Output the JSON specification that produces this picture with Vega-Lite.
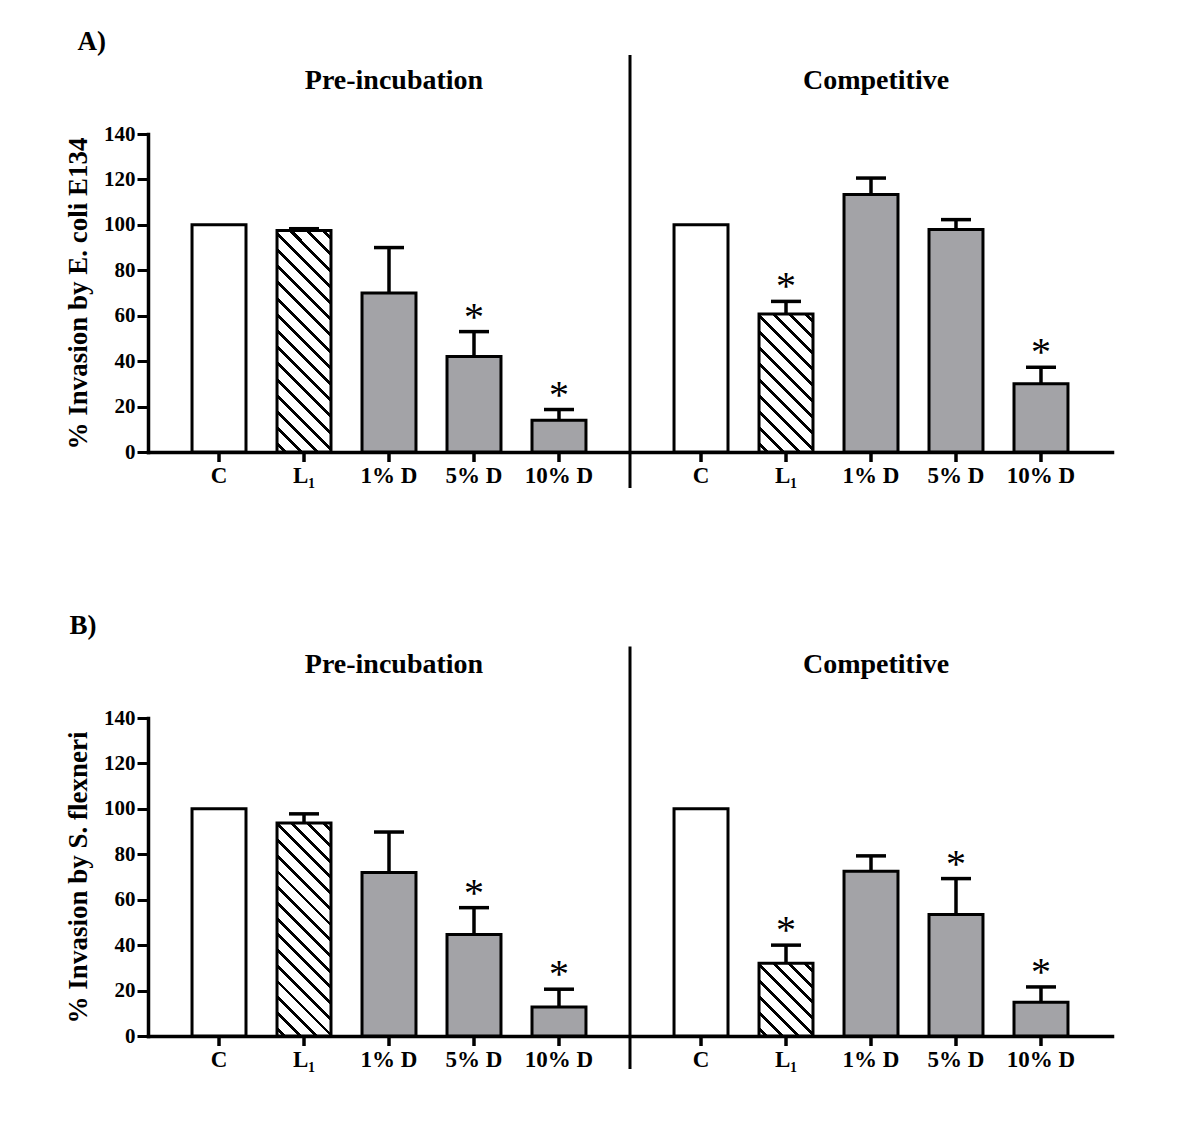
{
"$schema":"https://vega.github.io/schema/vega-lite/v6.json",
"background":"white",
"padding":{"left":64,"top":28,"right":5,"bottom":5},
"spacing":121,
"config":{"view":{"stroke":null},
 "axisY":{"domainColor":"black","domainWidth":3.5,"domainCap":"square","tickColor":"black","tickWidth":3,"tickSize":11,"labelFont":"Liberation Serif","labelFontSize":21,"labelFontWeight":"bold","labelColor":"black","labelPadding":2,"titleFont":"Liberation Serif","titleFontSize":27,"titleFontWeight":"bold","titleColor":"black","titlePadding":11,"grid":false,"tickCount":7},
 "axisX":{"domainColor":"black","domainWidth":3.5,"domainCap":"square","labels":false,"ticks":false,"grid":false}},
"data":{"values":[
{"panel":"A","group":"Pre-incubation","cond":"C","mean":100,"upper":null,"sig":false},
{"panel":"A","group":"Pre-incubation","cond":"L₁","mean":97.5,"upper":98.3,"sig":false},
{"panel":"A","group":"Pre-incubation","cond":"1% D","mean":70,"upper":90,"sig":false},
{"panel":"A","group":"Pre-incubation","cond":"5% D","mean":42,"upper":53,"sig":true},
{"panel":"A","group":"Pre-incubation","cond":"10% D","mean":14,"upper":18.7,"sig":true},
{"panel":"A","group":"Competitive","cond":"C","mean":100,"upper":null,"sig":false},
{"panel":"A","group":"Competitive","cond":"L₁","mean":60.8,"upper":66.3,"sig":true},
{"panel":"A","group":"Competitive","cond":"1% D","mean":113.4,"upper":120.6,"sig":false},
{"panel":"A","group":"Competitive","cond":"5% D","mean":98,"upper":102.3,"sig":false},
{"panel":"A","group":"Competitive","cond":"10% D","mean":30,"upper":37.3,"sig":true},
{"panel":"B","group":"Pre-incubation","cond":"C","mean":100,"upper":null,"sig":false},
{"panel":"B","group":"Pre-incubation","cond":"L₁","mean":93.8,"upper":97.8,"sig":false},
{"panel":"B","group":"Pre-incubation","cond":"1% D","mean":72,"upper":89.8,"sig":false},
{"panel":"B","group":"Pre-incubation","cond":"5% D","mean":44.7,"upper":56.5,"sig":true},
{"panel":"B","group":"Pre-incubation","cond":"10% D","mean":12.8,"upper":20.6,"sig":true},
{"panel":"B","group":"Competitive","cond":"C","mean":100,"upper":null,"sig":false},
{"panel":"B","group":"Competitive","cond":"L₁","mean":32,"upper":40,"sig":true},
{"panel":"B","group":"Competitive","cond":"1% D","mean":72.5,"upper":79.3,"sig":false},
{"panel":"B","group":"Competitive","cond":"5% D","mean":53.5,"upper":69.3,"sig":true},
{"panel":"B","group":"Competitive","cond":"10% D","mean":14.9,"upper":21.6,"sig":true}
]},
"vconcat":[
{
"title":{"text":"A)","anchor":"start","frame":"bounds","baseline":"alphabetic","offset":-24,"dx":13,"font":"Liberation Serif","fontSize":27,"fontWeight":"bold","color":"black"},
"width":964,"height":318,
"transform":[{"filter":"datum.panel === 'A'"}],
"layer":[
{"transform":[{"filter":"datum.cond !== 'L₁'"}],
 "mark":{"type":"bar","stroke":"black","strokeWidth":3},
 "encoding":{
  "x":{"field":"group","type":"nominal","scale":{"domain":["Pre-incubation","Competitive"],"paddingInner":0,"paddingOuter":0},"title":null},
  "xOffset":{"field":"cond","type":"nominal","scale":{"domain":["C","L₁","1% D","5% D","10% D"],"paddingInner":0.365,"paddingOuter":0.518}},
  "y":{"field":"mean","type":"quantitative","scale":{"domain":[0,140],"nice":false},"title":"% Invasion by E. coli E134"},
  "fill":{"condition":{"test":"datum.cond === 'C'","value":"white"},"value":"#a3a3a7"}}},
{"transform":[{"filter":"datum.cond === 'L₁' && datum.group === 'Pre-incubation'"}],
 "mark":{"type":"bar","stroke":"black","strokeWidth":3,"fill":{"gradient":"linear","x1":0,"y1":1,"x2":0.2862,"y2":-0.1741,"stops":[
{"offset":0,"color":"#fff"},
{"offset":0.02206,"color":"#fff"},{"offset":0.02206,"color":"#000"},{"offset":0.03676,"color":"#000"},{"offset":0.03676,"color":"#fff"},
{"offset":0.08088,"color":"#fff"},{"offset":0.08088,"color":"#000"},{"offset":0.09559,"color":"#000"},{"offset":0.09559,"color":"#fff"},
{"offset":0.13971,"color":"#fff"},{"offset":0.13971,"color":"#000"},{"offset":0.15441,"color":"#000"},{"offset":0.15441,"color":"#fff"},
{"offset":0.19853,"color":"#fff"},{"offset":0.19853,"color":"#000"},{"offset":0.21324,"color":"#000"},{"offset":0.21324,"color":"#fff"},
{"offset":0.25735,"color":"#fff"},{"offset":0.25735,"color":"#000"},{"offset":0.27206,"color":"#000"},{"offset":0.27206,"color":"#fff"},
{"offset":0.31618,"color":"#fff"},{"offset":0.31618,"color":"#000"},{"offset":0.33088,"color":"#000"},{"offset":0.33088,"color":"#fff"},
{"offset":0.375,"color":"#fff"},{"offset":0.375,"color":"#000"},{"offset":0.38971,"color":"#000"},{"offset":0.38971,"color":"#fff"},
{"offset":0.43382,"color":"#fff"},{"offset":0.43382,"color":"#000"},{"offset":0.44853,"color":"#000"},{"offset":0.44853,"color":"#fff"},
{"offset":0.49265,"color":"#fff"},{"offset":0.49265,"color":"#000"},{"offset":0.50735,"color":"#000"},{"offset":0.50735,"color":"#fff"},
{"offset":0.55147,"color":"#fff"},{"offset":0.55147,"color":"#000"},{"offset":0.56618,"color":"#000"},{"offset":0.56618,"color":"#fff"},
{"offset":0.61029,"color":"#fff"},{"offset":0.61029,"color":"#000"},{"offset":0.625,"color":"#000"},{"offset":0.625,"color":"#fff"},
{"offset":0.66912,"color":"#fff"},{"offset":0.66912,"color":"#000"},{"offset":0.68382,"color":"#000"},{"offset":0.68382,"color":"#fff"},
{"offset":0.72794,"color":"#fff"},{"offset":0.72794,"color":"#000"},{"offset":0.74265,"color":"#000"},{"offset":0.74265,"color":"#fff"},
{"offset":0.78676,"color":"#fff"},{"offset":0.78676,"color":"#000"},{"offset":0.80147,"color":"#000"},{"offset":0.80147,"color":"#fff"},
{"offset":0.84559,"color":"#fff"},{"offset":0.84559,"color":"#000"},{"offset":0.86029,"color":"#000"},{"offset":0.86029,"color":"#fff"},
{"offset":0.90441,"color":"#fff"},{"offset":0.90441,"color":"#000"},{"offset":0.91912,"color":"#000"},{"offset":0.91912,"color":"#fff"},
{"offset":0.96324,"color":"#fff"},{"offset":0.96324,"color":"#000"},{"offset":0.97794,"color":"#000"},{"offset":0.97794,"color":"#fff"},
{"offset":1,"color":"#fff"}]}},
 "encoding":{
  "x":{"field":"group","type":"nominal","title":null},
  "xOffset":{"field":"cond","type":"nominal"},
  "y":{"field":"mean","type":"quantitative","title":"% Invasion by E. coli E134"}}},
{"transform":[{"filter":"datum.cond === 'L₁' && datum.group === 'Competitive'"}],
 "mark":{"type":"bar","stroke":"black","strokeWidth":3,"fill":{"gradient":"linear","x1":0,"y1":1,"x2":0.4719,"y2":-0.2067,"stops":[
{"offset":0,"color":"#fff"},
{"offset":0.03125,"color":"#fff"},{"offset":0.03125,"color":"#000"},{"offset":0.05208,"color":"#000"},{"offset":0.05208,"color":"#fff"},
{"offset":0.11458,"color":"#fff"},{"offset":0.11458,"color":"#000"},{"offset":0.13542,"color":"#000"},{"offset":0.13542,"color":"#fff"},
{"offset":0.19792,"color":"#fff"},{"offset":0.19792,"color":"#000"},{"offset":0.21875,"color":"#000"},{"offset":0.21875,"color":"#fff"},
{"offset":0.28125,"color":"#fff"},{"offset":0.28125,"color":"#000"},{"offset":0.30208,"color":"#000"},{"offset":0.30208,"color":"#fff"},
{"offset":0.36458,"color":"#fff"},{"offset":0.36458,"color":"#000"},{"offset":0.38542,"color":"#000"},{"offset":0.38542,"color":"#fff"},
{"offset":0.44792,"color":"#fff"},{"offset":0.44792,"color":"#000"},{"offset":0.46875,"color":"#000"},{"offset":0.46875,"color":"#fff"},
{"offset":0.53125,"color":"#fff"},{"offset":0.53125,"color":"#000"},{"offset":0.55208,"color":"#000"},{"offset":0.55208,"color":"#fff"},
{"offset":0.61458,"color":"#fff"},{"offset":0.61458,"color":"#000"},{"offset":0.63542,"color":"#000"},{"offset":0.63542,"color":"#fff"},
{"offset":0.69792,"color":"#fff"},{"offset":0.69792,"color":"#000"},{"offset":0.71875,"color":"#000"},{"offset":0.71875,"color":"#fff"},
{"offset":0.78125,"color":"#fff"},{"offset":0.78125,"color":"#000"},{"offset":0.80208,"color":"#000"},{"offset":0.80208,"color":"#fff"},
{"offset":0.86458,"color":"#fff"},{"offset":0.86458,"color":"#000"},{"offset":0.88542,"color":"#000"},{"offset":0.88542,"color":"#fff"},
{"offset":0.94792,"color":"#fff"},{"offset":0.94792,"color":"#000"},{"offset":0.96875,"color":"#000"},{"offset":0.96875,"color":"#fff"},
{"offset":1,"color":"#fff"}]}},
 "encoding":{
  "x":{"field":"group","type":"nominal","title":null},
  "xOffset":{"field":"cond","type":"nominal"},
  "y":{"field":"mean","type":"quantitative","title":"% Invasion by E. coli E134"}}},
{"transform":[{"filter":"datum.upper != null"}],
 "mark":{"type":"rule","strokeWidth":3.5,"color":"black"},
 "encoding":{
  "x":{"field":"group","type":"nominal","title":null},
  "xOffset":{"field":"cond","type":"nominal"},
  "y":{"field":"mean","type":"quantitative","title":"% Invasion by E. coli E134"},
  "y2":{"field":"upper"}}},
{"transform":[{"filter":"datum.upper != null"}],
 "mark":{"type":"tick","orient":"horizontal","size":30,"thickness":3.5,"color":"black","opacity":1},
 "encoding":{
  "x":{"field":"group","type":"nominal","title":null},
  "xOffset":{"field":"cond","type":"nominal"},
  "y":{"field":"upper","type":"quantitative","title":"% Invasion by E. coli E134"}}},
{"transform":[{"filter":"datum.sig"}],
 "mark":{"type":"text","text":"*","font":"Liberation Serif","fontSize":40,"baseline":"alphabetic","dy":-2,"color":"black"},
 "encoding":{
  "x":{"field":"group","type":"nominal","title":null},
  "xOffset":{"field":"cond","type":"nominal"},
  "y":{"field":"upper","type":"quantitative","title":"% Invasion by E. coli E134"}}},
{"mark":{"type":"rule","strokeWidth":3.5,"color":"black"},
 "encoding":{
  "x":{"field":"group","type":"nominal","title":null},
  "xOffset":{"field":"cond","type":"nominal"},
  "y":{"datum":0,"type":"quantitative","title":"% Invasion by E. coli E134"},
  "y2":{"datum":-4.4}}},
{"mark":{"type":"text","font":"Liberation Serif","fontSize":23,"fontWeight":"bold","baseline":"alphabetic","dy":31,"color":"black"},
 "encoding":{
  "x":{"field":"group","type":"nominal","title":null},
  "xOffset":{"field":"cond","type":"nominal"},
  "y":{"datum":0,"type":"quantitative","title":"% Invasion by E. coli E134"},
  "text":{"field":"cond"}}},
{"transform":[{"filter":"datum.cond === 'C'"}],
 "mark":{"type":"text","font":"Liberation Serif","fontSize":28,"fontWeight":"bold","baseline":"alphabetic","dx":5,"color":"black"},
 "encoding":{
  "x":{"field":"group","type":"nominal","title":null},
  "y":{"datum":160,"type":"quantitative","title":"% Invasion by E. coli E134"},
  "text":{"field":"group"}}},
{"transform":[{"filter":"datum.cond === 'C' && datum.group === 'Competitive'"}],
 "mark":{"type":"rule","strokeWidth":3,"color":"black"},
 "encoding":{
  "x":{"field":"group","type":"nominal","bandPosition":0,"title":null},
  "y":{"datum":174.8,"type":"quantitative","title":"% Invasion by E. coli E134"},
  "y2":{"datum":-15.8}}}
]},
{
"title":{"text":"B)","anchor":"start","frame":"bounds","baseline":"alphabetic","offset":-16,"dx":5,"font":"Liberation Serif","fontSize":27,"fontWeight":"bold","color":"black"},
"width":964,"height":318,
"transform":[{"filter":"datum.panel === 'B'"}],
"layer":[
{"transform":[{"filter":"datum.cond !== 'L₁'"}],
 "mark":{"type":"bar","stroke":"black","strokeWidth":3},
 "encoding":{
  "x":{"field":"group","type":"nominal","scale":{"domain":["Pre-incubation","Competitive"],"paddingInner":0,"paddingOuter":0},"title":null},
  "xOffset":{"field":"cond","type":"nominal","scale":{"domain":["C","L₁","1% D","5% D","10% D"],"paddingInner":0.365,"paddingOuter":0.518}},
  "y":{"field":"mean","type":"quantitative","scale":{"domain":[0,140],"nice":false},"title":"% Invasion by S. flexneri"},
  "fill":{"condition":{"test":"datum.cond === 'C'","value":"white"},"value":"#a3a3a7"}}},
{"transform":[{"filter":"datum.cond === 'L₁' && datum.group === 'Pre-incubation'"}],
 "mark":{"type":"bar","stroke":"black","strokeWidth":3,"fill":{"gradient":"linear","x1":0,"y1":1,"x2":0.2985,"y2":-0.178,"stops":[
{"offset":0,"color":"#fff"},
{"offset":0.02206,"color":"#fff"},{"offset":0.02206,"color":"#000"},{"offset":0.03676,"color":"#000"},{"offset":0.03676,"color":"#fff"},
{"offset":0.08088,"color":"#fff"},{"offset":0.08088,"color":"#000"},{"offset":0.09559,"color":"#000"},{"offset":0.09559,"color":"#fff"},
{"offset":0.13971,"color":"#fff"},{"offset":0.13971,"color":"#000"},{"offset":0.15441,"color":"#000"},{"offset":0.15441,"color":"#fff"},
{"offset":0.19853,"color":"#fff"},{"offset":0.19853,"color":"#000"},{"offset":0.21324,"color":"#000"},{"offset":0.21324,"color":"#fff"},
{"offset":0.25735,"color":"#fff"},{"offset":0.25735,"color":"#000"},{"offset":0.27206,"color":"#000"},{"offset":0.27206,"color":"#fff"},
{"offset":0.31618,"color":"#fff"},{"offset":0.31618,"color":"#000"},{"offset":0.33088,"color":"#000"},{"offset":0.33088,"color":"#fff"},
{"offset":0.375,"color":"#fff"},{"offset":0.375,"color":"#000"},{"offset":0.38971,"color":"#000"},{"offset":0.38971,"color":"#fff"},
{"offset":0.43382,"color":"#fff"},{"offset":0.43382,"color":"#000"},{"offset":0.44853,"color":"#000"},{"offset":0.44853,"color":"#fff"},
{"offset":0.49265,"color":"#fff"},{"offset":0.49265,"color":"#000"},{"offset":0.50735,"color":"#000"},{"offset":0.50735,"color":"#fff"},
{"offset":0.55147,"color":"#fff"},{"offset":0.55147,"color":"#000"},{"offset":0.56618,"color":"#000"},{"offset":0.56618,"color":"#fff"},
{"offset":0.61029,"color":"#fff"},{"offset":0.61029,"color":"#000"},{"offset":0.625,"color":"#000"},{"offset":0.625,"color":"#fff"},
{"offset":0.66912,"color":"#fff"},{"offset":0.66912,"color":"#000"},{"offset":0.68382,"color":"#000"},{"offset":0.68382,"color":"#fff"},
{"offset":0.72794,"color":"#fff"},{"offset":0.72794,"color":"#000"},{"offset":0.74265,"color":"#000"},{"offset":0.74265,"color":"#fff"},
{"offset":0.78676,"color":"#fff"},{"offset":0.78676,"color":"#000"},{"offset":0.80147,"color":"#000"},{"offset":0.80147,"color":"#fff"},
{"offset":0.84559,"color":"#fff"},{"offset":0.84559,"color":"#000"},{"offset":0.86029,"color":"#000"},{"offset":0.86029,"color":"#fff"},
{"offset":0.90441,"color":"#fff"},{"offset":0.90441,"color":"#000"},{"offset":0.91912,"color":"#000"},{"offset":0.91912,"color":"#fff"},
{"offset":0.96324,"color":"#fff"},{"offset":0.96324,"color":"#000"},{"offset":0.97794,"color":"#000"},{"offset":0.97794,"color":"#fff"},
{"offset":1,"color":"#fff"}]}},
 "encoding":{
  "x":{"field":"group","type":"nominal","title":null},
  "xOffset":{"field":"cond","type":"nominal"},
  "y":{"field":"mean","type":"quantitative","title":"% Invasion by S. flexneri"}}},
{"transform":[{"filter":"datum.cond === 'L₁' && datum.group === 'Competitive'"}],
 "mark":{"type":"bar","stroke":"black","strokeWidth":3,"fill":{"gradient":"linear","x1":0,"y1":1,"x2":0.8343,"y2":-0.123,"stops":[
{"offset":0,"color":"#fff"},
{"offset":0.046875,"color":"#fff"},{"offset":0.046875,"color":"#000"},{"offset":0.078125,"color":"#000"},{"offset":0.078125,"color":"#fff"},
{"offset":0.171875,"color":"#fff"},{"offset":0.171875,"color":"#000"},{"offset":0.203125,"color":"#000"},{"offset":0.203125,"color":"#fff"},
{"offset":0.296875,"color":"#fff"},{"offset":0.296875,"color":"#000"},{"offset":0.328125,"color":"#000"},{"offset":0.328125,"color":"#fff"},
{"offset":0.421875,"color":"#fff"},{"offset":0.421875,"color":"#000"},{"offset":0.453125,"color":"#000"},{"offset":0.453125,"color":"#fff"},
{"offset":0.546875,"color":"#fff"},{"offset":0.546875,"color":"#000"},{"offset":0.578125,"color":"#000"},{"offset":0.578125,"color":"#fff"},
{"offset":0.671875,"color":"#fff"},{"offset":0.671875,"color":"#000"},{"offset":0.703125,"color":"#000"},{"offset":0.703125,"color":"#fff"},
{"offset":0.796875,"color":"#fff"},{"offset":0.796875,"color":"#000"},{"offset":0.828125,"color":"#000"},{"offset":0.828125,"color":"#fff"},
{"offset":0.921875,"color":"#fff"},{"offset":0.921875,"color":"#000"},{"offset":0.953125,"color":"#000"},{"offset":0.953125,"color":"#fff"},
{"offset":1,"color":"#fff"}]}},
 "encoding":{
  "x":{"field":"group","type":"nominal","title":null},
  "xOffset":{"field":"cond","type":"nominal"},
  "y":{"field":"mean","type":"quantitative","title":"% Invasion by S. flexneri"}}},
{"transform":[{"filter":"datum.upper != null"}],
 "mark":{"type":"rule","strokeWidth":3.5,"color":"black"},
 "encoding":{
  "x":{"field":"group","type":"nominal","title":null},
  "xOffset":{"field":"cond","type":"nominal"},
  "y":{"field":"mean","type":"quantitative","title":"% Invasion by S. flexneri"},
  "y2":{"field":"upper"}}},
{"transform":[{"filter":"datum.upper != null"}],
 "mark":{"type":"tick","orient":"horizontal","size":30,"thickness":3.5,"color":"black","opacity":1},
 "encoding":{
  "x":{"field":"group","type":"nominal","title":null},
  "xOffset":{"field":"cond","type":"nominal"},
  "y":{"field":"upper","type":"quantitative","title":"% Invasion by S. flexneri"}}},
{"transform":[{"filter":"datum.sig"}],
 "mark":{"type":"text","text":"*","font":"Liberation Serif","fontSize":40,"baseline":"alphabetic","dy":-2,"color":"black"},
 "encoding":{
  "x":{"field":"group","type":"nominal","title":null},
  "xOffset":{"field":"cond","type":"nominal"},
  "y":{"field":"upper","type":"quantitative","title":"% Invasion by S. flexneri"}}},
{"mark":{"type":"rule","strokeWidth":3.5,"color":"black"},
 "encoding":{
  "x":{"field":"group","type":"nominal","title":null},
  "xOffset":{"field":"cond","type":"nominal"},
  "y":{"datum":0,"type":"quantitative","title":"% Invasion by S. flexneri"},
  "y2":{"datum":-4.4}}},
{"mark":{"type":"text","font":"Liberation Serif","fontSize":23,"fontWeight":"bold","baseline":"alphabetic","dy":31,"color":"black"},
 "encoding":{
  "x":{"field":"group","type":"nominal","title":null},
  "xOffset":{"field":"cond","type":"nominal"},
  "y":{"datum":0,"type":"quantitative","title":"% Invasion by S. flexneri"},
  "text":{"field":"cond"}}},
{"transform":[{"filter":"datum.cond === 'C'"}],
 "mark":{"type":"text","font":"Liberation Serif","fontSize":28,"fontWeight":"bold","baseline":"alphabetic","dx":5,"color":"black"},
 "encoding":{
  "x":{"field":"group","type":"nominal","title":null},
  "y":{"datum":160,"type":"quantitative","title":"% Invasion by S. flexneri"},
  "text":{"field":"group"}}},
{"transform":[{"filter":"datum.cond === 'C' && datum.group === 'Competitive'"}],
 "mark":{"type":"rule","strokeWidth":3,"color":"black"},
 "encoding":{
  "x":{"field":"group","type":"nominal","bandPosition":0,"title":null},
  "y":{"datum":171.5,"type":"quantitative","title":"% Invasion by S. flexneri"},
  "y2":{"datum":-14.5}}}
]}
]
}
